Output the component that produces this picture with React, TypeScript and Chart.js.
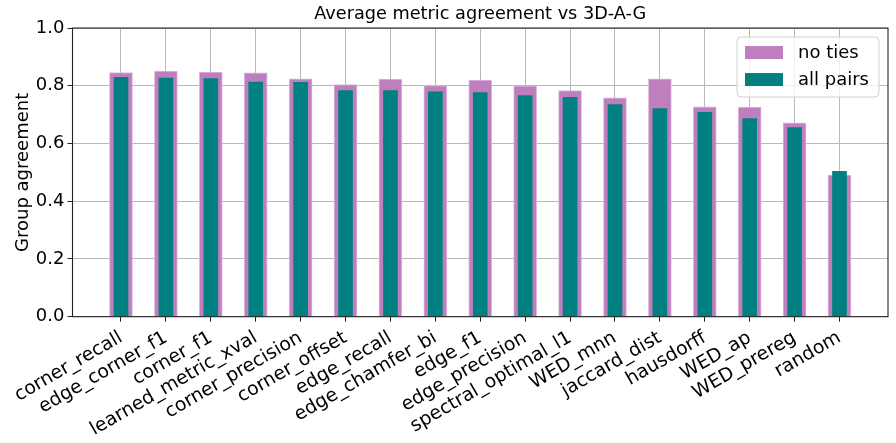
import React, { useEffect, useRef } from "react";
import { Chart, registerables } from "chart.js";

Chart.register(...registerables);

const categories = [
  "corner_recall",
  "edge_corner_f1",
  "corner_f1",
  "learned_metric_xval",
  "corner_precision",
  "corner_offset",
  "edge_recall",
  "edge_chamfer_bi",
  "edge_f1",
  "edge_precision",
  "spectral_optimal_l1",
  "WED_mnn",
  "jaccard_dist",
  "hausdorff",
  "WED_ap",
  "WED_prereg",
  "random",
];
const noTies = [0.846, 0.851, 0.847, 0.845, 0.824, 0.804, 0.823, 0.801, 0.820, 0.800, 0.783, 0.758, 0.824, 0.727, 0.726, 0.672, 0.491];
const allPairs = [0.829, 0.827, 0.825, 0.813, 0.812, 0.783, 0.783, 0.779, 0.776, 0.766, 0.760, 0.735, 0.721, 0.708, 0.686, 0.655, 0.504];
const yTicks = [0, 0.2, 0.4, 0.6, 0.8, 1.0];
const titleText = "Average metric agreement vs 3D-A-G";
const yLabel = "Group agreement";
const seriesLabels = ["no ties", "all pairs"];

const FONT = "'DejaVu Sans', 'Liberation Sans', sans-serif";

const framePlugin = {
  id: "frame",
  afterDraw(chart: any) {
    const { ctx, chartArea } = chart;
    ctx.save();
    ctx.strokeStyle = "#222";
    ctx.lineWidth = 1.1;
    ctx.strokeRect(chartArea.left, chartArea.top, chartArea.right - chartArea.left, chartArea.bottom - chartArea.top);
    ctx.restore();
  },
};

const legendPlugin = {
  id: "mplLegend",
  afterDraw(chart: any) {
    const { ctx, chartArea } = chart;
    const w = 142;
    const h = 60;
    const x = chartArea.right - 9 - w;
    const y = chartArea.top + 9;
    ctx.save();
    ctx.beginPath();
    const r = 4;
    ctx.moveTo(x + r, y);
    ctx.lineTo(x + w - r, y);
    ctx.quadraticCurveTo(x + w, y, x + w, y + r);
    ctx.lineTo(x + w, y + h - r);
    ctx.quadraticCurveTo(x + w, y + h, x + w - r, y + h);
    ctx.lineTo(x + r, y + h);
    ctx.quadraticCurveTo(x, y + h, x, y + h - r);
    ctx.lineTo(x, y + r);
    ctx.quadraticCurveTo(x, y, x + r, y);
    ctx.closePath();
    ctx.fillStyle = "rgba(255,255,255,0.8)";
    ctx.fill();
    ctx.strokeStyle = "#d0d0d0";
    ctx.lineWidth = 1;
    ctx.stroke();
    const datasets = chart.data.datasets;
    datasets.forEach((ds: any, i: number) => {
      const cy = y + 15.5 + i * 27;
      ctx.fillStyle = ds.backgroundColor;
      ctx.fillRect(x + 8, cy - 6.5, 38, 13);
      ctx.fillStyle = "#000";
      ctx.font = `18px ${FONT}`;
      ctx.textBaseline = "middle";
      ctx.textAlign = "left";
      ctx.fillText(ds.label, x + 61, cy + 1);
    });
    ctx.restore();
  },
};

export default function App() {
  const ref = useRef<HTMLCanvasElement | null>(null);
  useEffect(() => {
    if (!ref.current) return;
    Chart.defaults.font.family = FONT;
    const chart = new Chart(ref.current, {
      type: "bar",
      data: {
        datasets: [
          {
            label: seriesLabels[0],
            data: noTies.map((v, i) => ({ x: i, y: v })),
            backgroundColor: "#bf7fbf",
            borderColor: "#dcbadc",
            borderWidth: 1,
            borderSkipped: "start",
            barThickness: 23,
            grouped: false,
            order: 2,
          },
          {
            label: seriesLabels[1],
            data: allPairs.map((v, i) => ({ x: i, y: v })),
            backgroundColor: "#008080",
            barThickness: 14,
            grouped: false,
            order: 1,
          },
        ] as any,
      },
      options: {
        animation: false,
        responsive: false,
        devicePixelRatio: 1,
        layout: { padding: { left: 0, right: 8, top: 0, bottom: 0 } },
        plugins: {
          legend: { display: false },
          tooltip: { enabled: false },
          title: {
            display: true,
            text: titleText,
            fullSize: false,
            color: "#000",
            font: { size: 17.7, weight: "normal", family: FONT },
            padding: { top: 4, bottom: 2.8 },
          },
        },
        scales: {
          x: {
            type: "linear",
            min: -1.08,
            max: 17.08,
            offset: false,
            z: 1,
            afterBuildTicks: (s: any) => {
              s.ticks = categories.map((_, i) => ({ value: i }));
            },
            afterFit: (s: any) => {
              s.height = 126.3;
              s.paddingLeft = 0;
              s.paddingRight = 0;
            },
            ticks: {
              autoSkip: false,
              minRotation: 30,
              maxRotation: 30,
              color: "#000",
              padding: 5,
              font: { size: 18.8, family: FONT },
              callback: (_v: any, i: number) => categories[i],
            },
            grid: {
              offset: false,
              color: "#b8b8b8",
              lineWidth: 1,
              tickLength: 5,
              tickColor: "#222",
              drawOnChartArea: true,
            },
            border: { display: false },
          },
          y: {
            min: 0,
            max: 1,
            z: 1,
            afterBuildTicks: (s: any) => {
              s.ticks = yTicks.map((v) => ({ value: v }));
            },
            afterFit: (s: any) => {
              s.width = 72.5;
              s.paddingTop = 0;
              s.paddingBottom = 0;
            },
            ticks: {
              color: "#000",
              padding: 3,
              font: { size: 18, family: FONT },
              callback: (v: any) => Number(v).toFixed(1),
            },
            grid: {
              color: "#b8b8b8",
              lineWidth: 1,
              tickLength: 5,
              tickColor: "#222",
            },
            border: { display: false },
            title: {
              display: true,
              text: yLabel,
              color: "#000",
              font: { size: 18, family: FONT },
              padding: { top: 12.5, bottom: 0 },
            },
          },
        },
      } as any,
      plugins: [framePlugin, legendPlugin],
    });
    return () => chart.destroy();
  }, []);
  return (
    <div style={{ position: "absolute", left: 0, top: 0, width: 896, height: 443 }}>
      <canvas ref={ref} width={896} height={443} style={{ width: 896, height: 443, display: "block" }} />
    </div>
  );
}
